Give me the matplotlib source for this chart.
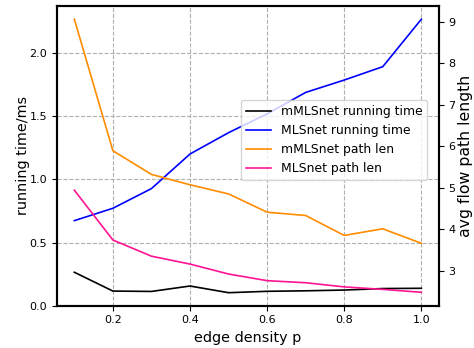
import matplotlib
matplotlib.use("Agg")
import matplotlib.pyplot as plt

p = [0.1, 0.2, 0.3, 0.4, 0.5, 0.6, 0.7, 0.8, 0.9, 1.0]
mmlsnet_time = [0.265, 0.116, 0.113, 0.156, 0.103, 0.114, 0.118, 0.124, 0.136, 0.138]
mlsnet_time = [0.674, 0.772, 0.928, 1.202, 1.371, 1.52, 1.69, 1.788, 1.894, 2.27]
mmlsnet_len = [9.06, 5.89, 5.32, 5.07, 4.85, 4.41, 4.33, 3.85, 4.01, 3.66]
mlsnet_len = [4.94, 3.74, 3.35, 3.16, 2.92, 2.76, 2.71, 2.61, 2.55, 2.48]

fig = plt.figure(figsize=(4.74, 3.48), dpi=100)
ax1 = fig.add_axes([57/474, 1-305.7/348, (438.7-57)/474, (305.7-5.7)/348])
ax2 = ax1.twinx()

l1, = ax1.plot(p, mmlsnet_time, color='black', lw=1.2, label='mMLSnet running time')
l2, = ax1.plot(p, mlsnet_time, color='blue', lw=1.2, label='MLSnet running time')
l3, = ax2.plot(p, mmlsnet_len, color='darkorange', lw=1.2, label='mMLSnet path len')
l4, = ax2.plot(p, mlsnet_len, color='deeppink', lw=1.2, label='MLSnet path len')

ax1.set_ylim(0, 2.377)
ax2.set_ylim(2.157, 9.385)
ax1.set_yticks([0.0, 0.5, 1.0, 1.5, 2.0])
ax2.set_yticks([3, 4, 5, 6, 7, 8, 9])
ax1.set_xticks([0.2, 0.4, 0.6, 0.8, 1.0])

ax1.grid(True, linestyle='--', color='#b0b0b0', lw=0.8)
ax1.set_xlabel('edge density p', fontsize=10.4)
ax1.set_ylabel('running time/ms', fontsize=10.4, labelpad=-0.5)
ax2.set_ylabel('avg flow path length', fontsize=11.3, labelpad=2)
for ax in (ax1, ax2):
    ax.tick_params(labelsize=8)
    for s in ax.spines.values():
        s.set_linewidth(1.5)

ax1.legend(handles=[l1, l2, l3, l4], loc='upper left',
           bbox_to_anchor=((241-57)/381.7, 1-(100-5.7)/300), fontsize=8.9,
           borderaxespad=0, framealpha=0.8)

fig.savefig('out.png', dpi=100)
